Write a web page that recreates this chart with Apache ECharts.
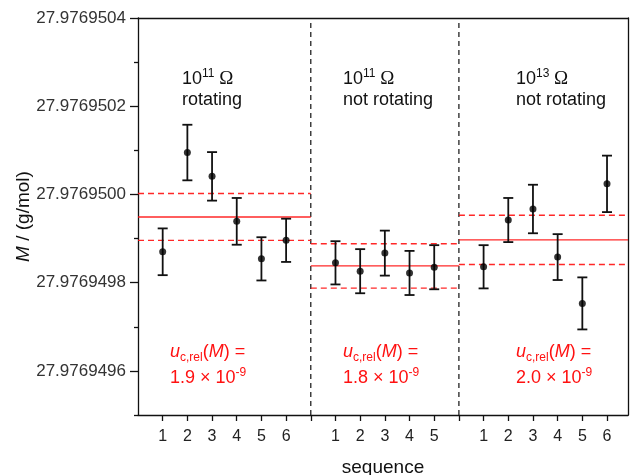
<!DOCTYPE html>
<html>
<head>
<meta charset="utf-8">
<script src="https://cdn.jsdelivr.net/npm/echarts@6/dist/echarts.min.js"></script>
<style>
  html, body { margin: 0; padding: 0; background: #fff; }
  #chart { width: 632px; height: 475px; }
</style>
</head>
<body>
<div id="chart"></div>
<script>
// Molar mass results for three measurement conditions (g/mol)
const rotating11 = [27.976949870, 27.976950095, 27.976950041, 27.976949939, 27.976949854, 27.976949896];
const rotating11Unc = [5.3e-8, 6.3e-8, 5.5e-8, 5.3e-8, 4.9e-8, 4.9e-8];
const still11 = [27.976949845, 27.976949826, 27.976949867, 27.976949822, 27.976949835];
const still11Unc = [4.9e-8, 5.0e-8, 5.1e-8, 5.0e-8, 5.0e-8];
const still13 = [27.976949836, 27.976949942, 27.976949967, 27.976949858, 27.976949753, 27.976950024];
const still13Unc = [4.9e-8, 5.0e-8, 5.5e-8, 5.2e-8, 5.9e-8, 6.4e-8];

// Weighted mean per condition and its relative combined uncertainty (x 10^-9)
const groupMeans = [27.976949949, 27.976949838, 27.976949897];
const groupRelUnc = [1.9, 1.8, 2.0];

// Condition labels
const resistExp = ['11', '11', '13'];
const modes = ['rotating', 'not rotating', 'not rotating'];

// Axis ticks (g/mol)
const yMajorTicks = [27.9769496, 27.9769498, 27.9769500, 27.9769502, 27.9769504];
const yMinorTicks = [27.9769495, 27.9769497, 27.9769499, 27.9769501, 27.9769503];
const yRange = [27.9769495, 27.9769504];

// Values are plotted as offsets from M0 in units of 1e-9 g/mol to keep precision
const M0 = 27.97694;
const toAxis = m => Math.round((m - M0) * 1e9 * 1000) / 1000;
const fromAxis = v => (M0 + v * 1e-9).toFixed(7);

// Panel layout along the x axis (sequence slots)
const panelStart = [0, 7, 13];
const panelEnd = [7, 13, 19.85];
const groups = [
  { vals: rotating11, unc: rotating11Unc },
  { vals: still11, unc: still11Unc },
  { vals: still13, unc: still13Unc }
];

const points = [];
const errBars = [];
const labelPos = [];
const labelText = {};
groups.forEach((g, gi) => {
  g.vals.forEach((m, i) => {
    const x = panelStart[gi] + i + 1;
    points.push([x, toAxis(m)]);
    errBars.push([x, toAxis(m), g.unc[i] * 1e9]);
    labelPos.push(x);
    labelText[x] = String(i + 1);
  });
});

// Mean lines and uncertainty bands
const levelLines = [];
groupMeans.forEach((m, gi) => {
  const u = m * groupRelUnc[gi] * 1e-9;
  levelLines.push([panelStart[gi], panelEnd[gi], toAxis(m), 0]);
  levelLines.push([panelStart[gi], panelEnd[gi], toAxis(m + u), 1]);
  levelLines.push([panelStart[gi], panelEnd[gi], toAxis(m - u), 1]);
});
const dividers = [[7], [13]];

const xTicks = [];
for (let i = 1; i <= 19; i++) xTicks.push(i);

const yMin = toAxis(yRange[0]);
const yMax = toAxis(yRange[1]);
const FONT = 'Liberation Sans, Arial, sans-serif';
const RED = '#ff1111';

const chart = echarts.init(document.getElementById('chart'), null, { renderer: 'canvas' });

const graphics = [];
const headX = [182, 343, 516];
const noteX = [170, 343, 516];
for (let gi = 0; gi < 3; gi++) {
  graphics.push({
    type: 'text', x: headX[gi], y: 79,
    style: {
      text: '{a|10}{s|' + resistExp[gi] + '}{o| Ω}',
      verticalAlign: 'middle', align: 'left',
      rich: {
        a: { fontFamily: FONT, fontSize: 18, fill: '#111', lineHeight: 22 },
        s: { fontFamily: FONT, fontSize: 12, fill: '#111', verticalAlign: 'top', lineHeight: 14 },
        o: { fontFamily: 'Liberation Serif, serif', fontSize: 19, fill: '#111', lineHeight: 22 }
      }
    }
  });
  graphics.push({
    type: 'text', x: headX[gi], y: 100,
    style: { text: modes[gi], fontFamily: FONT, fontSize: 18, fill: '#111', verticalAlign: 'middle', align: 'left' }
  });
  graphics.push({
    type: 'text', x: noteX[gi], y: 352,
    style: {
      text: '{i|u}{b|c,rel}{r|(}{i|M}{r|) =}',
      verticalAlign: 'middle', align: 'left',
      rich: {
        i: { fontFamily: FONT, fontSize: 18, fontStyle: 'italic', fill: RED, lineHeight: 24 },
        b: { fontFamily: FONT, fontSize: 12, fill: RED, verticalAlign: 'bottom', lineHeight: 14 },
        r: { fontFamily: FONT, fontSize: 18, fill: RED, lineHeight: 24 }
      }
    }
  });
  graphics.push({
    type: 'text', x: noteX[gi], y: 378,
    style: {
      text: '{r|' + groupRelUnc[gi].toFixed(1) + ' × 10}{s|-9}',
      verticalAlign: 'middle', align: 'left',
      rich: {
        r: { fontFamily: FONT, fontSize: 18, fill: RED, lineHeight: 22 },
        s: { fontFamily: FONT, fontSize: 12, fill: RED, verticalAlign: 'top', lineHeight: 14 }
      }
    }
  });
}

const option = {
  animation: false,
  backgroundColor: '#fff',
  grid: { left: 138, right: 4, top: 18, bottom: 60, containLabel: false, outerBoundsMode: 'none' },
  xAxis: [
    {
      type: 'value', min: 0, max: 19.85, position: 'bottom',
      name: 'sequence', nameLocation: 'middle', nameGap: 43, nameMoveOverlap: false,
      nameTextStyle: { fontFamily: FONT, fontSize: 19, color: '#111' },
      axisLine: { lineStyle: { color: '#111', width: 1.3 } },
      axisTick: { show: true, customValues: xTicks, length: 6, lineStyle: { color: '#111', width: 1.3 } },
      axisLabel: {
        customValues: labelPos, margin: 14,
        fontFamily: FONT, fontSize: 16, color: '#222',
        formatter: v => labelText[Math.round(v)] || ''
      },
      splitLine: { show: false }
    },
    {
      type: 'value', min: 0, max: 19.85, position: 'top',
      axisLine: { show: true, lineStyle: { color: '#111', width: 1.3 } },
      axisTick: { show: false }, axisLabel: { show: false }, splitLine: { show: false }
    }
  ],
  yAxis: [
    {
      type: 'value', min: yMin, max: yMax, position: 'left',
      name: '{i|M} / (g/mol)', nameLocation: 'middle', nameGap: 105, nameRotate: 90,
      nameMoveOverlap: false,
      nameTextStyle: {
        fontFamily: FONT, fontSize: 19, color: '#111',
        rich: {
          i: { fontFamily: FONT, fontSize: 19, fontStyle: 'italic', color: '#111' }
        }
      },
      axisLine: { show: true, lineStyle: { color: '#111', width: 1.3 } },
      axisTick: { show: true, customValues: yMajorTicks.map(toAxis), length: 8, lineStyle: { color: '#111', width: 1.3 } },
      axisLabel: {
        customValues: yMajorTicks.map(toAxis), margin: 12,
        fontFamily: FONT, fontSize: 17, color: '#333',
        formatter: v => fromAxis(v)
      },
      splitLine: { show: false }
    },
    {
      type: 'value', min: yMin, max: yMax, position: 'left',
      axisLine: { show: false },
      axisTick: { show: true, customValues: yMinorTicks.map(toAxis), length: 4, lineStyle: { color: '#111', width: 1.3 } },
      axisLabel: { show: false }, splitLine: { show: false }
    },
    {
      type: 'value', min: yMin, max: yMax, position: 'right',
      axisLine: { show: true, lineStyle: { color: '#111', width: 1.3 } },
      axisTick: { show: false }, axisLabel: { show: false }, splitLine: { show: false }
    }
  ],
  graphic: graphics,
  series: [
    {
      type: 'custom', name: 'dividers', xAxisIndex: 0, yAxisIndex: 0,
      data: dividers, silent: true, z: 1,
      renderItem: (params, api) => {
        const p0 = api.coord([api.value(0), yMin]);
        const p1 = api.coord([api.value(0), yMax]);
        return {
          type: 'line',
          shape: { x1: p0[0], y1: p0[1], x2: p1[0], y2: p1[1] },
          style: { stroke: '#111', lineWidth: 1.2, lineDash: [5, 4] }
        };
      }
    },
    {
      type: 'custom', name: 'levels', xAxisIndex: 0, yAxisIndex: 0,
      data: levelLines, silent: true, z: 2,
      renderItem: (params, api) => {
        const p0 = api.coord([api.value(0), api.value(2)]);
        const p1 = api.coord([api.value(1), api.value(2)]);
        const dashed = api.value(3) === 1;
        return {
          type: 'line',
          shape: { x1: p0[0], y1: p0[1], x2: p1[0], y2: p1[1] },
          style: { stroke: RED, lineWidth: 1.4, lineDash: dashed ? [6, 4] : null, opacity: 0.9 }
        };
      }
    },
    {
      type: 'custom', name: 'errors', xAxisIndex: 0, yAxisIndex: 0,
      data: errBars, silent: true, z: 3,
      renderItem: (params, api) => {
        const x = api.value(0), y = api.value(1), e = api.value(2);
        const top = api.coord([x, y + e]);
        const bot = api.coord([x, y - e]);
        const w = 5;
        const st = { stroke: '#111', lineWidth: 1.8 };
        return {
          type: 'group',
          children: [
            { type: 'line', shape: { x1: top[0], y1: top[1], x2: bot[0], y2: bot[1] }, style: st },
            { type: 'line', shape: { x1: top[0] - w, y1: top[1], x2: top[0] + w, y2: top[1] }, style: st },
            { type: 'line', shape: { x1: bot[0] - w, y1: bot[1], x2: bot[0] + w, y2: bot[1] }, style: st }
          ]
        };
      }
    },
    {
      type: 'scatter', name: 'M', xAxisIndex: 0, yAxisIndex: 0,
      data: points, symbol: 'circle', symbolSize: 7, z: 4,
      itemStyle: { color: '#000' }
    }
  ]
};

chart.setOption(option);
</script>
</body>
</html>
